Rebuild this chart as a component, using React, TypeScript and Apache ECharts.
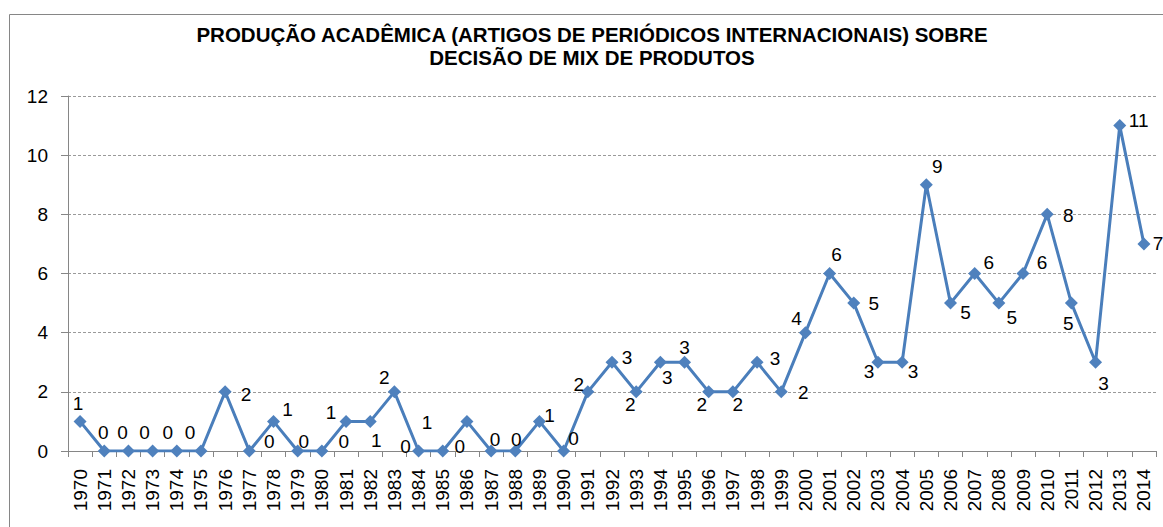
import React, { useEffect, useRef } from "react";
import * as echarts from "echarts";

const YEARS = [
  "1970","1971","1972","1973","1974","1975","1976","1977","1978","1979",
  "1980","1981","1982","1983","1984","1985","1986","1987","1988","1989",
  "1990","1991","1992","1993","1994","1995","1996","1997","1998","1999",
  "2000","2001","2002","2003","2004","2005","2006","2007","2008","2009",
  "2010","2011","2012","2013","2014",
];

const ARTICLES = [
  1, 0, 0, 0, 0, 0, 2, 0, 1, 0,
  0, 1, 1, 2, 0, 0, 1, 0, 0, 1,
  0, 2, 3, 2, 3, 3, 2, 2, 3, 2,
  4, 6, 5, 3, 3, 9, 5, 6, 5, 6,
  8, 5, 3, 11, 7,
];

const Y_TICKS = [0, 2, 4, 6, 8, 10, 12];

const TITLE_LINES = [
  "PRODUÇÃO ACADÊMICA (ARTIGOS DE PERIÓDICOS INTERNACIONAIS) SOBRE",
  "DECISÃO DE MIX DE PRODUTOS",
];

// label placement (style): offset of each data label from its marker
const LABEL_OFFSETS: [number, number][] = [
  [-2, -18], [-1, -19], [-6, -19], [-8, -19], [-9, -19], [-11, -19], [21, 3], [20, -10], [14, -12], [6, -10],
  [22, -10], [-15, -9], [6, 19], [-10, -14], [-13, -5], [17, -5], [-40, 1], [4, -12], [1, -12], [10, -6],
  [10, -13], [-9, -7], [15, -5], [-6, 13], [7, 15], [0, -15], [-7, 13], [5, 13], [18, -4], [22, 1],
  [-9, -14], [7, -19], [20, 0], [-9, 9], [11, 9], [11, -18], [15, 9], [14, -11], [13, 14], [19, -11],
  [21, 1], [-3, 20], [8, 21], [19, -5], [14, 0],
];

const FONT = "'Liberation Sans', Arial, sans-serif";

export default function App() {
  const ref = useRef<HTMLDivElement>(null);

  useEffect(() => {
    if (!ref.current) return;
    const chart = echarts.init(ref.current, undefined, { renderer: "svg" });
    const data = ARTICLES.map((v, i) => ({
      value: v,
      label: { offset: LABEL_OFFSETS[i] },
    }));
    chart.setOption({
      animation: false,
      backgroundColor: "#ffffff",
      textStyle: { fontFamily: FONT },
      graphic: [
        {
          type: "rect",
          shape: { x: 9.5, y: 14.5, width: 1400, height: 800 },
          style: { fill: "none", stroke: "#868686", lineWidth: 1 },
          silent: true,
          z: -1,
        },
        {
          type: "text",
          x: 592,
          y: 23,
          style: {
            text: TITLE_LINES.join("\n"),
            textAlign: "center",
            textVerticalAlign: "top",
            fontFamily: FONT,
            fontWeight: "bold",
            fontSize: 20.5,
            lineHeight: 23,
            fill: "#000000",
          },
        },
      ],
      grid: { left: 68, right: 7, top: 96, bottom: 76, containLabel: false },
      xAxis: {
        type: "category",
        data: YEARS,
        boundaryGap: true,
        axisLine: { show: true, lineStyle: { color: "#868686", width: 1 } },
        axisTick: { show: true, length: 6, alignWithLabel: false, lineStyle: { color: "#868686" } },
        axisLabel: {
          rotate: 90,
          interval: 0,
          margin: 18,
          color: "#000000",
          fontSize: 19,
          fontFamily: FONT,
        },
        splitLine: { show: false },
      },
      yAxis: {
        type: "value",
        min: Y_TICKS[0],
        max: Y_TICKS[Y_TICKS.length - 1],
        interval: Y_TICKS[1] - Y_TICKS[0],
        axisLine: { show: true, lineStyle: { color: "#868686", width: 1 } },
        axisTick: { show: true, length: 7, lineStyle: { color: "#868686" } },
        axisLabel: { color: "#000000", fontSize: 19, margin: 20, fontFamily: FONT },
        splitLine: { show: true, lineStyle: { color: "#9a9a9a", type: [3, 2], width: 1 } },
      },
      series: [
        {
          type: "line",
          data,
          symbol: "diamond",
          symbolSize: 13,
          lineStyle: { color: "#4A7EBB", width: 3 },
          itemStyle: { color: "#4F81BD" },
          label: {
            show: true,
            position: "inside",
            align: "center",
            verticalAlign: "middle",
            color: "#000000",
            fontSize: 19,
            fontFamily: FONT,
          },
          z: 3,
        },
      ],
    });
    return () => chart.dispose();
  }, []);

  return (
    <div
      ref={ref}
      style={{ position: "fixed", left: 0, top: 0, width: 1163, height: 527, background: "#fff" }}
    />
  );
}
